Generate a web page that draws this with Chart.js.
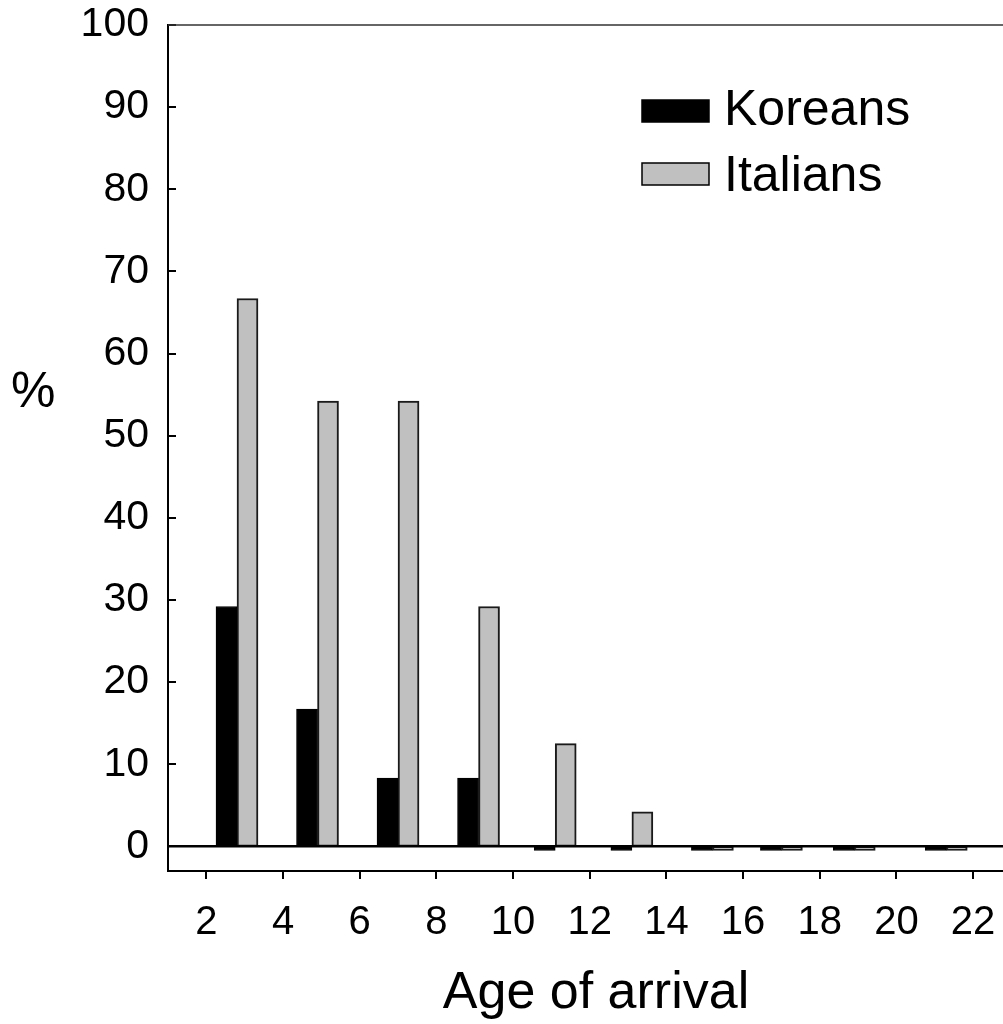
<!DOCTYPE html>
<html>
<head>
<meta charset="utf-8">
<script src="https://cdn.jsdelivr.net/npm/chart.js@4.4.0/dist/chart.umd.min.js"></script>
<style>
    html, body { margin: 0; padding: 0; background: #fff; }
    #wrap { width: 1003px; height: 1024px; position: relative; }
</style>
</head>
<body>
<div id="wrap"><canvas id="arrivalChart"></canvas></div>
<script>
// group centres on the age axis and the share (%) in each group
const groupX = [2.8, 4.9, 7.0, 9.1, 11.1, 13.1, 15.2, 17.0, 18.9, 21.3];
const koreans = [29.2, 16.7, 8.3, 8.3, -0.5, -0.5, -0.5, -0.5, -0.5, -0.5];
const italians = [66.7, 54.2, 54.2, 29.2, 12.5, 4.2, -0.5, -0.5, -0.5, -0.5];
const seriesNames = ['Koreans', 'Italians'];
const xTicks = [2, 4, 6, 8, 10, 12, 14, 16, 18, 20, 22];
const yTicks = [0, 10, 20, 30, 40, 50, 60, 70, 80, 90, 100];
const xTitle = 'Age of arrival';
const yTitle = '%';

const FONT = "'Liberation Sans', Arial, sans-serif";
const GREY = '#c0c0c0';

// the plot is clipped on the right like the original, so no label padding
function noPadding(scale) {
    scale.paddingTop = 0;
    scale.paddingBottom = 0;
    scale.paddingLeft = 0;
    scale.paddingRight = 0;
}

const framePlugin = {
    id: 'frame',
    afterDatasetsDraw: function(chart) {
        const ctx = chart.ctx;
        const a = chart.chartArea;
        const y = chart.scales.y;
        ctx.save();
        // zero line
        const y0 = y.getPixelForValue(0);
        ctx.strokeStyle = '#000';
        ctx.lineWidth = 2.5;
        ctx.beginPath();
        ctx.moveTo(a.left, y0);
        ctx.lineTo(a.right, y0);
        ctx.stroke();
        // y ticks point inward
        ctx.lineWidth = 2;
        yTicks.forEach(function(v) {
            const p = Math.round(y.getPixelForValue(v));
            ctx.beginPath();
            ctx.moveTo(a.left, p);
            ctx.lineTo(a.left + 8, p);
            ctx.stroke();
        });
        // top frame line
        ctx.strokeStyle = '#333';
        ctx.lineWidth = 1.5;
        ctx.beginPath();
        ctx.moveTo(a.left, a.top);
        ctx.lineTo(a.right, a.top);
        ctx.stroke();
        ctx.restore();
    },
    afterDraw: function(chart) {
        const ctx = chart.ctx;
        const a = chart.chartArea;
        ctx.save();
        // legend
        const boxX = a.left + 474;
        const rows = [
            { fill: '#000', top: a.top + 75, base: a.top + 100 },
            { fill: GREY, top: a.top + 138, base: a.top + 166 }
        ];
        ctx.font = '50px ' + FONT;
        ctx.textBaseline = 'alphabetic';
        ctx.textAlign = 'left';
        rows.forEach(function(r, i) {
            ctx.fillStyle = r.fill;
            ctx.fillRect(boxX, r.top, 67, 22);
            ctx.strokeStyle = '#000';
            ctx.lineWidth = 1.5;
            ctx.strokeRect(boxX, r.top, 67, 22);
            ctx.fillStyle = '#000';
            ctx.fillText(seriesNames[i], boxX + 82, r.base);
        });
        // y axis label, upright
        ctx.font = '50px ' + FONT;
        ctx.textBaseline = 'middle';
        ctx.fillText(yTitle, 11, 393);
        // x axis label
        ctx.font = '52px ' + FONT;
        ctx.textAlign = 'center';
        ctx.textBaseline = 'alphabetic';
        ctx.fillText(xTitle, 596, 1008);
        ctx.restore();
    }
};

const ctx = document.getElementById('arrivalChart').getContext('2d');
new Chart(ctx, {
    type: 'bar',
    data: {
        datasets: [{
            label: seriesNames[0],
            data: groupX.map(function(x, i) { return { x: x, y: koreans[i] }; }),
            backgroundColor: '#000',
            borderColor: '#000',
            borderWidth: 1,
            borderSkipped: false,
            barThickness: 21
        }, {
            label: seriesNames[1],
            data: groupX.map(function(x, i) { return { x: x, y: italians[i] }; }),
            backgroundColor: GREY,
            borderColor: '#1a1a1a',
            borderWidth: 2,
            borderSkipped: false,
            barThickness: 21
        }]
    },
    options: {
        responsive: true,
        maintainAspectRatio: false,
        animation: false,
        devicePixelRatio: 1,
        layout: { autoPadding: false, padding: { top: 25, right: 0, left: 0, bottom: 0 } },
        plugins: {
            legend: { display: false },
            tooltip: { enabled: false }
        },
        scales: {
            x: {
                type: 'linear',
                min: 1,
                max: 22.78,
                offset: false,
                afterBuildTicks: function(scale) {
                    scale.ticks = xTicks.map(function(v) { return { value: v }; });
                },
                afterFit: function(scale) {
                    scale.height = 153;
                    noPadding(scale);
                },
                grid: {
                    display: true,
                    offset: false,
                    drawOnChartArea: false,
                    drawTicks: true,
                    tickLength: 8,
                    color: '#000',
                    lineWidth: 2
                },
                border: { display: true, color: '#000', width: 2 },
                ticks: {
                    font: { family: FONT, size: 40 },
                    color: '#000',
                    padding: 20,
                    maxRotation: 0,
                    autoSkip: false
                }
            },
            y: {
                type: 'linear',
                min: -3,
                max: 100,
                afterBuildTicks: function(scale) {
                    scale.ticks = yTicks.map(function(v) { return { value: v }; });
                },
                afterFit: function(scale) {
                    scale.width = 168;
                    noPadding(scale);
                },
                grid: { display: false },
                border: { display: true, color: '#000', width: 2 },
                ticks: {
                    font: { family: FONT, size: 41 },
                    color: '#000',
                    padding: 11
                }
            }
        }
    },
    plugins: [framePlugin]
});
</script>
</body>
</html>
